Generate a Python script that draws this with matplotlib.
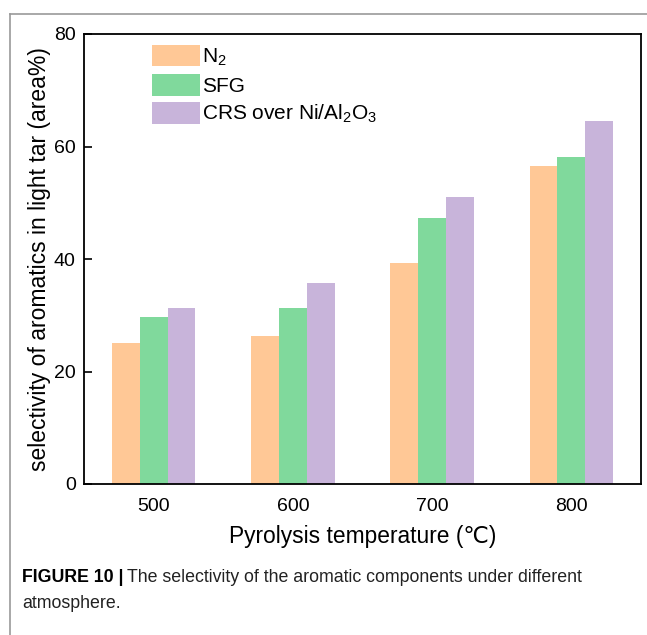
import numpy as np
import matplotlib
matplotlib.use("Agg")
from matplotlib import pyplot as plt
from matplotlib.lines import Line2D

plt.rcParams['font.family'] = ['Liberation Sans', 'DejaVu Sans']
plt.rcParams['mathtext.default'] = 'regular'

temperatures = ["500", "600", "700", "800"]
series_names = ["N$_2$", "SFG", "CRS over Ni/Al$_2$O$_3$"]
n2_values = [25.0, 26.4, 39.3, 56.5]
sfg_values = [29.7, 31.3, 47.3, 58.2]
crs_values = [31.3, 35.8, 51.1, 64.6]
colors = ["#FFC896", "#80D99C", "#C8B4DA"]

fig = plt.figure(figsize=(6.47, 6.35), dpi=100)
ax = fig.add_axes([84 / 647, 1 - 484 / 635, (641 - 84) / 647, (484 - 34) / 635])

x = np.arange(len(temperatures))
width = 0.2
for i, (vals, name, col) in enumerate(zip([n2_values, sfg_values, crs_values], series_names, colors)):
    ax.bar(x + (i - 1) * width, vals, width, color=col, label=name, linewidth=0)

ax.set_xlim(-0.5, 3.5)
ax.set_ylim(0, 80)
ax.set_yticks([0, 20, 40, 60, 80])
ax.set_xticks(x)
ax.set_xticklabels(temperatures)
ax.tick_params(axis='y', direction='in', length=6, width=1.2, labelsize=14, pad=6)
ax.tick_params(axis='x', length=0, labelsize=14, pad=10)
for sp in ax.spines.values():
    sp.set_linewidth(1.3)

ax.set_xlabel("Pyrolysis temperature (℃)", fontsize=16.4, labelpad=7)
ax.set_ylabel("selectivity of aromatics in light tar (area%)", fontsize=16.5, labelpad=2)

leg = ax.legend(loc='upper left', bbox_to_anchor=(152 / 647, 1 - 45 / 635),
                bbox_transform=fig.transFigure, frameon=False, fontsize=15,
                handlelength=2.3, handleheight=1.2, handletextpad=0.1,
                labelspacing=0.3, borderpad=0, borderaxespad=0)

# journal page frame
fig.add_artist(Line2D([10 / 647, 10 / 647], [0, 1 - 14 / 635], color="#999999", lw=1.2))
fig.add_artist(Line2D([10 / 647, 1], [1 - 14 / 635, 1 - 14 / 635], color="#999999", lw=1.2))

caption_font = ['Liberation Sans Narrow', 'Liberation Sans', 'DejaVu Sans']
t1 = fig.text(22 / 647, 1 - 577 / 635, "FIGURE 10 |", fontsize=12.8, fontweight='bold',
              family=caption_font, va='center')
fig.canvas.draw()
bb = t1.get_window_extent()
fig.text(bb.x1 / 647 + 3 / 647, 1 - 577 / 635,
         "The selectivity of the aromatic components under different",
         fontsize=12.8, family=caption_font, va='center', color="#222222")
fig.text(22 / 647, 1 - 604 / 635, "atmosphere.", fontsize=12.8, family=caption_font,
         va='center', color="#222222")

fig.savefig("out.png", dpi=100)
